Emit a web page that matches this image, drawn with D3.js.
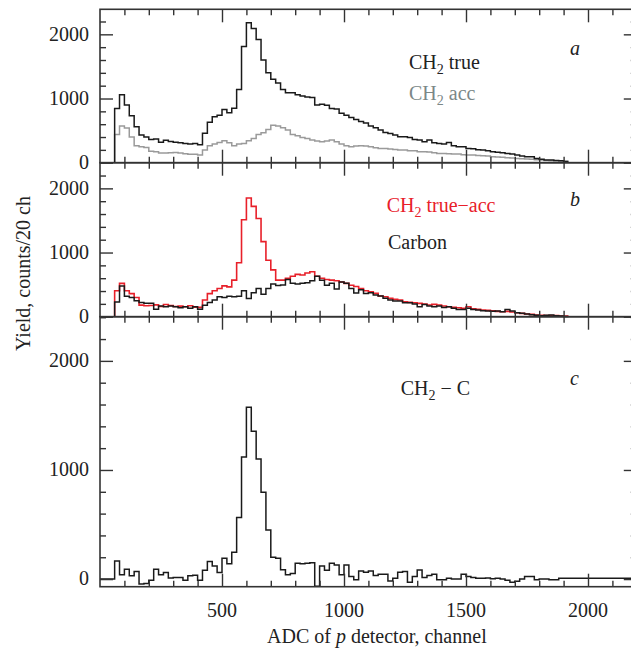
<!DOCTYPE html>
<html>
<head>
<meta charset="utf-8">
<script src="https://cdn.jsdelivr.net/npm/d3@7"></script>
<style>
  body { margin: 0; background: #fff; }
</style>
</head>
<body>
<div id="content"></div>
<script>
// bins are 20 channels wide, lower edge of first bin given
var binWidth = 20;
var firstBin = 60;

// panel a: CH2 true and CH2 accidental
var ch2True = [845, 1060, 900, 730, 560, 430, 400, 360, 370, 320, 350, 330, 320, 310, 300, 290, 300, 280,
  460, 630, 715, 740, 830, 780, 850, 1140, 1810, 2180, 2090, 1920, 1600, 1400, 1300, 1240, 1140, 1090,
  1090, 1060, 1040, 1025, 1015, 900, 910, 895, 845, 835, 770, 740, 705, 675, 640, 620,
  570, 545, 508, 470, 455, 430, 404, 404, 394, 363, 352, 326, 352, 311, 300, 290, 316, 264, 249, 249,
  223, 218, 202, 197, 187, 171, 161, 155, 145, 135, 119, 104, 93, 93, 67, 52, 41, 41, 36, 31, 20];
var ch2Acc = [440, 570, 540, 400, 265, 250, 235, 180, 170, 150, 150, 155, 160, 150, 140, 130, 130, 120,
  197, 264, 290, 316, 342, 311, 264, 290, 300, 342, 378, 440, 466, 518, 585, 570, 544, 508,
  440, 420, 394, 378, 352, 337, 326, 337, 352, 326, 290, 264, 249, 259, 264, 259,
  249, 233, 223, 223, 212, 207, 197, 197, 187, 187, 171, 171, 166, 155, 145, 145, 140, 135, 135, 124,
  119, 119, 114, 109, 104, 93, 88, 83, 78, 73, 67, 62, 57, 52, 47, 41, 36, 31, 31, 26, 21];

// panel b: CH2 true-acc and carbon
var ch2Diff = [405, 520, 405, 360, 300, 180, 170, 175, 185, 160, 190, 175, 160, 165, 155, 170, 150, 145,
  260, 360, 405, 440, 480, 465, 570, 840, 1510, 1850, 1720, 1530, 1170, 880, 730, 570, 570, 600,
  630, 660, 650, 680, 700, 630, 600, 580, 570, 560, 540, 520, 490, 470, 440, 405,
  390, 363, 322, 312, 286, 270, 260, 234, 223, 218, 208, 197, 182, 192, 182, 166, 156, 145, 140, 130,
  156, 125, 114, 104, 99, 93, 83, 78, 83, 73, 62, 52, 42, 36, 26, 21, 16, 16, 16, 10, 10];
var carbon = [230, 480, 320, 300, 250, 220, 210, 210, 115, 165, 155, 165, 155, 140, 155, 130, 155, 115,
  180, 220, 260, 310, 300, 320, 310, 320, 405, 285, 375, 440, 350, 440, 510, 485, 495, 580,
  520, 510, 520, 530, 560, 630, 570, 490, 520, 430, 540, 520, 440, 370, 420, 360,
  374, 337, 322, 286, 260, 244, 244, 218, 218, 197, 156, 192, 166, 156, 166, 145, 156, 130, 114, 114,
  130, 114, 104, 93, 88, 83, 88, 78, 114, 88, 62, 52, 42, 31, 21, 16, 21, 26, 16, 10, 5];

// panel c: CH2 - C, starts at channel 0
var ch2MinusC = [0, 0, 0,
  165, 40, 90, 30, 70, -45, -40, -10, 90, 40, 60, 10, 15, 15, -10, 30, 35, -10,
  80, 160, 120, 60, 190, 140, 245, 565, 1120, 1575, 1355, 1100, 795, 450, 200, 190, 85, 40,
  50, 145, 140, 145, 150, -65, 120, 80, 145, 130, 40, 130, 23, -7, 75,
  63, 75, 32, 45, 45, -17, 8, 63, 69, -29, 23, 84, 14, 32, 45, -7, -7, 8, 0, 0,
  45, 23, 14, 8, 8, 10, 2, 8, 0, -10, -29, -20, 0, 23, 23, -7, 0, 0, -7, -7, 8,
  8, 8, 8, 8, 8, 8, 8, 8, 8, 8, 8, 8, 8, 8];

var xTickLabels = [500, 1000, 1500, 2000];
var yTickLabels = [0, 1000, 2000];

var serif = "Liberation Serif";
var width = 631, height = 651;
var svg = d3.select("#content").append("svg")
  .attr("width", width)
  .attr("height", height)
  .attr("font-family", serif);

var x = d3.scaleLinear().domain([0, 2200]).range([100, 636.8]);

var panels = [
  { top: 9.3, bottom: 162.7, ymin: 0, ymax: 2390 },
  { top: 162.7, bottom: 316.7, ymin: 0, ymax: 2400 },
  { top: 316.7, bottom: 586.7, ymin: -70, ymax: 2405 }
];
panels.forEach(function(p) {
  p.y = d3.scaleLinear().domain([p.ymin, p.ymax]).range([p.bottom, p.top]);
});

function histPath(values, start, y, fromZero) {
  var pts = [];
  if (fromZero) pts.push([start, 0]);
  values.forEach(function(v, i) { pts.push([start + i * binWidth, v]); });
  pts.push([start + values.length * binWidth, values[values.length - 1]]);
  return d3.line()
    .x(function(d) { return x(d[0]); })
    .y(function(d) { return y(d[1]); })
    .curve(d3.curveStepAfter)(pts);
}

function txt(xp, yp, size) {
  return svg.append("text").attr("x", xp).attr("y", yp)
    .attr("font-family", serif).attr("font-size", size).attr("fill", "#222");
}

function drawFrame(p, showXLabels) {
  var g = svg.append("g").attr("class", "frame");
  var minorX = d3.range(100, 2200, 100).filter(function(d) { return d % 500 != 0; });
  var majorX = [500, 1000, 1500, 2000];
  var minorY = d3.range(0, p.ymax, 200).filter(function(d) { return d % 1000 != 0; });
  var majorY = d3.range(0, p.ymax, 1000);

  function ax(gen, tr, vals, len) {
    var a = g.append("g").attr("transform", tr)
      .call(gen.tickValues(vals).tickSize(-len).tickFormat(""));
    a.select(".domain").remove();
    a.selectAll("line").attr("stroke", "#333").attr("stroke-width", 1.4);
  }
  ax(d3.axisBottom(x), "translate(0," + p.bottom + ")", minorX, 6);
  ax(d3.axisBottom(x), "translate(0," + p.bottom + ")", majorX, 13);
  ax(d3.axisTop(x), "translate(0," + p.top + ")", minorX, 6);
  ax(d3.axisTop(x), "translate(0," + p.top + ")", majorX, 13);
  ax(d3.axisLeft(p.y), "translate(100,0)", minorY, 6);
  ax(d3.axisLeft(p.y), "translate(100,0)", majorY, 13);
  ax(d3.axisRight(p.y), "translate(636.8,0)", minorY, 6);
  ax(d3.axisRight(p.y), "translate(636.8,0)", majorY, 13);

  g.append("rect")
    .attr("x", 100).attr("y", p.top)
    .attr("width", 536.8).attr("height", p.bottom - p.top)
    .attr("fill", "none").attr("stroke", "#333").attr("stroke-width", 1.6);

  yTickLabels.forEach(function(d) {
    txt(89, p.y(d), 20).attr("dy", "0.32em").attr("text-anchor", "end").text(d);
  });

  if (showXLabels) {
    xTickLabels.forEach(function(d) {
      txt(x(d), 617, 20).attr("text-anchor", "middle").text(d);
    });
  }
}

function addLine(d, color, w) {
  svg.append("path").attr("d", d)
    .attr("fill", "none").attr("stroke", color)
    .attr("stroke-width", w).attr("stroke-linejoin", "miter");
}

// chemical formula text with subscript 2
function ch2Label(xp, yp, rest, color) {
  var t = txt(xp, yp, 20).attr("fill", color);
  t.append("tspan").text("CH");
  t.append("tspan").attr("dy", 5).attr("font-size", 14).text("2");
  t.append("tspan").attr("dy", -5).text(rest);
  return t;
}

function panelLetter(xp, yp, s) {
  txt(xp, yp, 20).attr("font-style", "italic").text(s);
}

// panel a
var pa = panels[0];
addLine(histPath(ch2Acc, firstBin, pa.y, true), "#9a9a9a", 1.5);
addLine(histPath(ch2True, firstBin, pa.y, true), "#1a1a1a", 1.5);
drawFrame(pa, false);
ch2Label(409, 69, " true", "#222");
ch2Label(409, 100, " acc", "#7b8787");
panelLetter(570, 55, "a");

// panel b
var pb = panels[1];
addLine(histPath(ch2Diff, firstBin, pb.y, true), "#e8202a", 1.6);
addLine(histPath(carbon, firstBin, pb.y, true), "#1a1a1a", 1.5);
drawFrame(pb, false);
ch2Label(386.7, 212, " true\u2212acc", "#e8202a");
txt(388, 249, 20).text("Carbon");
panelLetter(570, 206, "b");

// panel c
var pc = panels[2];
addLine(histPath(ch2MinusC, 0, pc.y, false), "#1a1a1a", 1.5);
drawFrame(pc, true);
ch2Label(400.7, 395, " \u2212 C", "#222");
panelLetter(570, 385, "c");

// axis titles
var xt = txt(267, 643, 20);
xt.append("tspan").text("ADC of ");
xt.append("tspan").attr("font-style", "italic").text("p");
xt.append("tspan").text(" detector, channel");

txt(0, 0, 20)
  .attr("transform", "translate(30,273.5) rotate(-90)")
  .attr("text-anchor", "middle")
  .text("Yield, counts/20 ch");
</script>
</body>
</html>
